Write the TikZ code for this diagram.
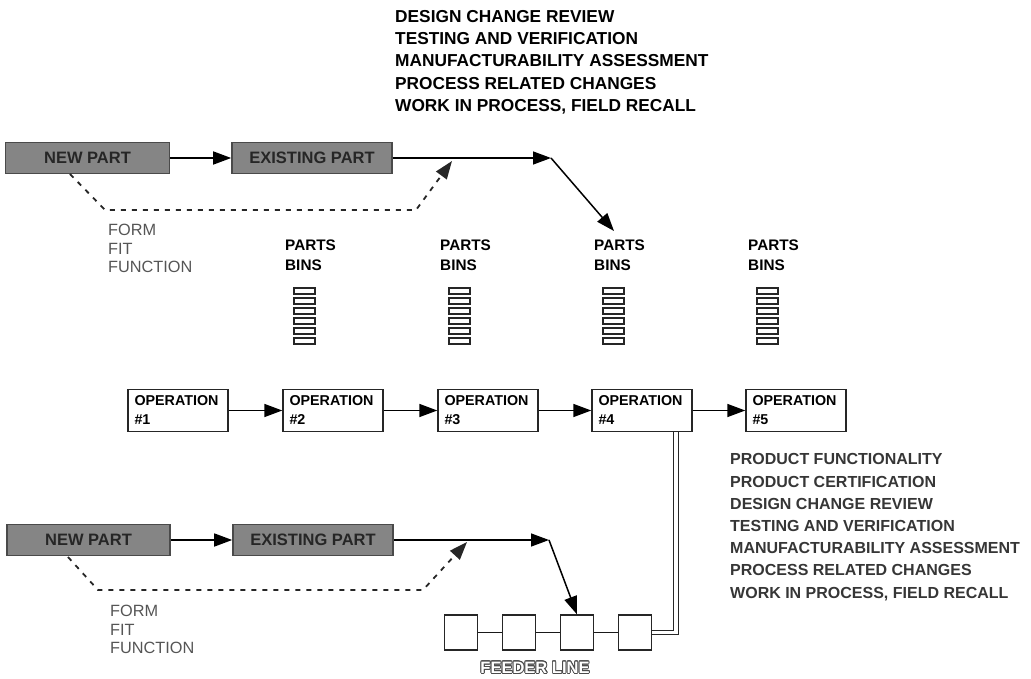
\documentclass[tikz,border=0pt]{standalone}
\usepackage{fontspec}
\setmainfont{Liberation Sans}
\usepackage{contour}
\contourlength{0.8pt}
\usetikzlibrary{arrows.meta,calc}
\definecolor{boxgray}{HTML}{858585}
\definecolor{edgegray}{HTML}{4A4A4A}
\definecolor{notegray}{HTML}{363636}
\definecolor{lightnote}{HTML}{555555}
\begin{document}
\begin{tikzpicture}[x=1pt,y=-1pt,
  partbox/.style={draw=edgegray, line width=1.6pt, fill=boxgray, minimum width=164pt,
    minimum height=31pt, inner sep=0pt, font=\fontsize{16.5}{18}\selectfont\bfseries, text=black!85},
  opbox/.style={draw=black!85, line width=1.4pt, fill=white, minimum width=100pt,
    minimum height=42pt, inner sep=0pt, text width=87pt, align=left,
    font=\fontsize{14.3}{18}\selectfont\bfseries},
  feedbox/.style={draw=black!85, line width=1.2pt, fill=white, minimum width=33pt,
    minimum height=35pt, inner sep=0pt},
  binbox/.style={draw=black!85, line width=1.6pt, minimum width=21pt, minimum height=6.3pt, inner sep=0pt},
  flow/.style={line width=1.5pt, -{Triangle[length=18pt,width=13pt]}},
  plain/.style={line width=1.2pt, black!90},
  dashflow/.style={line width=1.8pt, black!85, dash pattern=on 5pt off 6pt,
    -{Triangle[length=18pt,width=13pt]}},
  feed/.style={double=white, draw=black!85, line width=1.1pt, double distance=3.2pt},
  note/.style={anchor=north west, inner sep=0pt, align=left},
  binlabel/.style={anchor=north west, inner sep=0pt, align=left,
    font=\fontsize{15.3}{20}\selectfont\bfseries},
  fff/.style={anchor=north west, inner sep=0pt, align=left, text=lightnote,
    font=\fontsize{16.3}{18.5}\selectfont}
]
\useasboundingbox (0,0) rectangle (1031,679);

% ---- review checklist above the upper supply line
\node[note, font=\fontsize{17.3}{22.3}\selectfont\bfseries] (topnotes) at (395,10)
  {DESIGN CHANGE REVIEW\\TESTING AND VERIFICATION\\MANUFACTURABILITY ASSESSMENT\\PROCESS RELATED CHANGES\\WORK IN PROCESS, FIELD RECALL};

% ---- upper supply line
\node[partbox] (np1) at (87.5,158) {NEW PART};
\node[partbox, minimum width=160pt] (ep1) at (312,158) {EXISTING PART};
\coordinate (j1) at (551,158);
\coordinate (t1) at (614,231);
\draw[flow] (np1) -- (ep1);
\draw[flow] (ep1.east) -- (j1);
\draw[flow] (j1) -- (t1);
\coordinate (d1a) at (70,174);
\coordinate (d1b) at (105,210);
\coordinate (d1c) at (416,210);
\coordinate (d1d) at (452,161);
\draw[dashflow] (d1a) -- (d1b) -- (d1c) -- (d1d);
\node[fff] (fff1) at (108,224) {FORM\\FIT\\FUNCTION};

% ---- parts bins
\foreach \k/\x in {2/285,3/440,4/594,5/748}{
  \node[binlabel] (bl\k) at (\x,240) {PARTS\\BINS};
  \foreach \r in {0,...,5}{
    \node[binbox] (bin\k\r) at (\x+19.5,291+10*\r) {};
  }
}

% ---- main operation line
\foreach \k/\x in {1/178,2/333,3/488,4/642,5/796}{
  \node[opbox] (op\k) at (\x,410.5) {OPERATION\\[1pt]\#\k};
}
\foreach \a/\b in {1/2,2/3,3/4,4/5}{
  \draw[flow] (op\a) -- (op\b);
}

% ---- checklist at the end of the line
\node[note, text=notegray, font=\fontsize{16}{22.2}\selectfont\bfseries] (endnotes) at (730,453.5)
  {PRODUCT FUNCTIONALITY\\PRODUCT CERTIFICATION\\DESIGN CHANGE REVIEW\\TESTING AND VERIFICATION\\MANUFACTURABILITY ASSESSMENT\\PROCESS RELATED CHANGES\\WORK IN PROCESS, FIELD RECALL};

% ---- lower supply line
\node[partbox, minimum width=163pt] (np2) at (88.5,540) {NEW PART};
\node[partbox, minimum width=160pt] (ep2) at (313,540) {EXISTING PART};
\coordinate (j2) at (549,540);
\draw[flow] (np2) -- (ep2);
\draw[flow] (ep2.east) -- (j2);
\coordinate (d2a) at (68,557);
\coordinate (d2b) at (98,590);
\coordinate (d2c) at (423,590);
\coordinate (d2d) at (467,542);
\draw[dashflow] (d2a) -- (d2b) -- (d2c) -- (d2d);
\node[fff] (fff2) at (110,605) {FORM\\FIT\\FUNCTION};

% ---- feeder line
\foreach \k/\x in {1/461,2/519,3/577,4/635}{
  \node[feedbox] (fd\k) at (\x,632.5) {};
}
\foreach \a/\b in {1/2,2/3,3/4}{
  \draw[plain] (fd\a) -- (fd\b);
}
\draw[flow] (j2) -- (fd3.north);
\draw[feed] ([xshift=34pt]op4.south) |- (fd4.east);
\node[font=\fontsize{16.5}{18}\selectfont\bfseries] (fl) at (535,668)
  {\contour{black!70}{\textcolor{white}{FEEDER LINE}}};
\end{tikzpicture}
\end{document}
